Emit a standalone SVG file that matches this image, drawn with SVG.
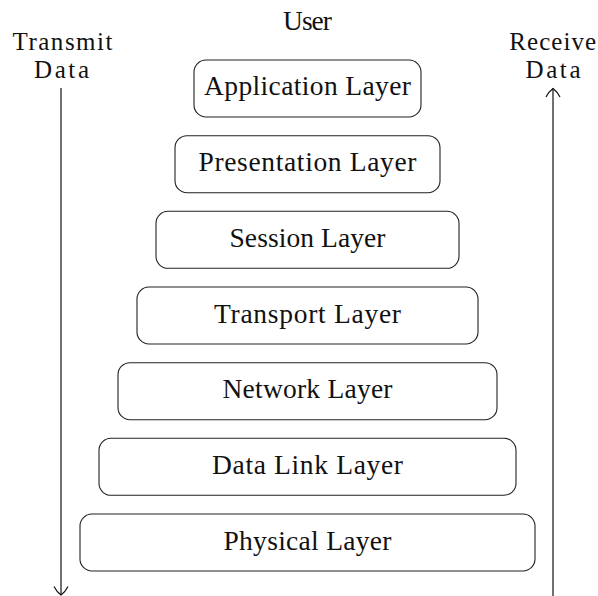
<svg xmlns="http://www.w3.org/2000/svg" width="598" height="596" viewBox="0 0 598 596">
<style>
text{font-family:"Liberation Serif","Times New Roman",serif;font-size:27.5px;fill:#111;text-anchor:middle}
.side{font-size:25px}
.box{fill:#fff;stroke:#222;stroke-width:1.1}
.conn{stroke:#111;stroke-width:1.2;fill:none}
</style>
<defs>
<marker id="to" markerUnits="userSpaceOnUse" markerWidth="16" markerHeight="16" refX="0" refY="0" orient="auto" overflow="visible">
<path d="M -8.5,-7 C -4.5,-5 -1.5,-2 0,0 C -1.5,2 -4.5,5 -8.5,7" fill="none" stroke="#111" stroke-width="1.2"/>
</marker>
</defs>
<rect width="598" height="596" fill="#fff"/>
<g id="connectors">
<line class="conn" x1="61" y1="88" x2="61" y2="595" marker-end="url(#to)"/>
<line class="conn" x1="553" y1="597" x2="553" y2="88.5" marker-end="url(#to)"/>
</g>
<g id="labels">
<text x="307.5" y="30" textLength="49">User</text>
<text class="side" x="62.5" y="49.5" textLength="100">Transmit</text>
<text class="side" x="61.5" y="77.5" textLength="55">Data</text>
<text class="side" x="552.7" y="49.5" textLength="87">Receive</text>
<text class="side" x="553" y="77.5" textLength="55">Data</text>
</g>
<g id="application">
<rect class="box" x="194" y="60" width="227" height="57" rx="12"/>
<text x="307.5" y="95" textLength="207">Application Layer</text>
</g>
<g id="presentation">
<rect class="box" x="175" y="135.7" width="265" height="57" rx="12"/>
<text x="307.5" y="171.2" textLength="218">Presentation Layer</text>
</g>
<g id="session">
<rect class="box" x="156" y="211.3" width="303" height="57" rx="12"/>
<text x="307.5" y="246.8" textLength="156">Session Layer</text>
</g>
<g id="transport">
<rect class="box" x="137" y="287" width="341" height="57" rx="12"/>
<text x="307.5" y="322.5" textLength="187">Transport Layer</text>
</g>
<g id="network">
<rect class="box" x="118" y="362.7" width="379" height="57" rx="12"/>
<text x="307.5" y="398.2" textLength="170">Network Layer</text>
</g>
<g id="datalink">
<rect class="box" x="99" y="438.3" width="417" height="57" rx="12"/>
<text x="307.5" y="473.8" textLength="191">Data Link Layer</text>
</g>
<g id="physical">
<rect class="box" x="80" y="514" width="455" height="57" rx="12"/>
<text x="307.5" y="549.5" textLength="168">Physical Layer</text>
</g>
</svg>
